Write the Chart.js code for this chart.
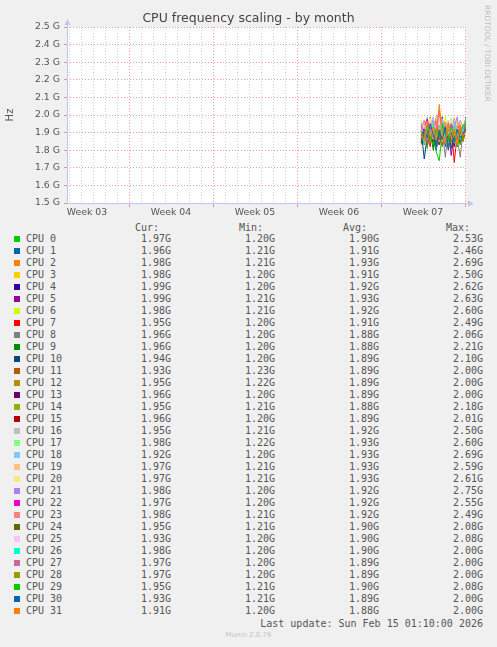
<!DOCTYPE html>
<html>
<head>
    <title>CPU frequency scaling - by month</title>
    <script src="https://cdn.jsdelivr.net/npm/chart.js"></script>
    <style>
        body {
            margin: 0;
            background: #f0f0f0;
            font-family: 'DejaVu Sans', sans-serif;
        }
        .wrap {
            position: relative;
            width: 497px;
            height: 647px;
            overflow: hidden;
        }
        #freqChart { position: absolute; left: 0; top: 0; }
        .row {
            position: absolute;
            left: 0;
            width: 497px;
            height: 12px;
            line-height: 12px;
            font-family: 'DejaVu Sans Mono', monospace;
            font-size: 10px;
            color: #555;
            white-space: pre;
        }
        .row span { position: absolute; top: 0; }
        .row .sw { left: 14px; top: 3px; width: 6px; height: 6px; }
        .row .name { left: 26px; }
        .vendor {
            position: absolute;
            left: 483px;
            top: 5px;
            writing-mode: vertical-rl;
            font-size: 7.5px;
            line-height: 9px;
            color: #bbb;
        }
        .version {
            position: absolute;
            left: 0;
            width: 497px;
            top: 631px;
            text-align: center;
            font-size: 7px;
            color: #c4c4c4;
        }
    </style>
</head>
<body>
<div class="wrap">
    <canvas id="freqChart" width="497" height="220"></canvas>
    <div class="vendor">RRDTOOL / TOBI OETIKER</div>
    <div id="legend"></div>
    <div class="version">Munin 2.0.76</div>
</div>

<script>
// x axis: days, 0 = start of week 04
const weekStarts = [0, 7, 14, 21, 28];
const weekCentres = [-3.5, 3.5, 10.5, 17.5, 24.5];
const weekLabels = ['Week 03', 'Week 04', 'Week 05', 'Week 06', 'Week 07'];

// sample times (days) of the last few days that hold data
const times = [24.35, 24.6, 24.85, 25.1, 25.35, 25.6, 25.85, 26.1, 26.35, 26.6, 26.85, 27.1, 27.35, 27.6, 27.85, 28.1];

// frequency per CPU, in GHz
const freqs = [
    [1.86, 1.92, 1.81, 1.95, 1.88, 1.79, 1.74, 1.90, 1.96, 1.84, 1.93, 1.87, 1.91, 1.83, 1.94, 1.97],
    [1.90, 1.84, 1.97, 1.86, 1.93, 1.80, 1.89, 1.95, 1.82, 1.91, 1.87, 1.96, 1.84, 1.92, 1.88, 1.96],
    [1.83, 1.95, 1.88, 1.99, 1.85, 1.92, 1.97, 1.86, 1.94, 1.81, 1.90, 1.98, 1.87, 1.93, 1.89, 1.98],
    [1.95, 1.87, 1.92, 1.84, 1.98, 1.89, 1.83, 1.96, 1.88, 1.93, 1.85, 1.91, 1.97, 1.86, 1.94, 1.98],
    [1.88, 1.93, 1.85, 1.90, 1.82, 1.97, 1.91, 1.87, 1.84, 1.95, 1.89, 1.82, 1.93, 1.90, 1.86, 1.99],
    [1.92, 1.85, 1.96, 1.89, 1.83, 1.94, 1.88, 1.99, 1.86, 1.91, 1.77, 1.90, 1.84, 1.95, 1.92, 1.99],
    [1.97, 1.89, 1.93, 1.98, 1.87, 1.91, 1.95, 1.84, 1.99, 1.90, 1.86, 1.94, 1.88, 1.96, 1.91, 1.98],
    [1.85, 1.91, 1.88, 1.82, 1.94, 1.86, 1.90, 1.83, 1.92, 1.88, 1.95, 1.73, 1.89, 1.93, 1.87, 1.95],
    [1.89, 1.83, 1.90, 1.87, 1.92, 1.81, 1.88, 1.93, 1.76, 1.90, 1.85, 1.91, 1.87, 1.76, 1.92, 1.96],
    [1.84, 1.90, 1.86, 1.93, 1.80, 1.89, 1.92, 1.85, 1.91, 1.83, 1.88, 1.94, 1.82, 1.90, 1.87, 1.96],
    [1.91, 1.75, 1.88, 1.84, 1.92, 1.87, 1.83, 1.90, 1.86, 1.93, 1.81, 1.89, 1.92, 1.85, 1.90, 1.94],
    [1.87, 1.92, 1.83, 1.90, 1.86, 1.94, 1.88, 1.82, 1.91, 1.87, 1.93, 1.84, 1.89, 1.92, 1.86, 1.93],
    [1.93, 1.86, 1.91, 1.85, 1.89, 1.83, 1.95, 1.88, 1.84, 1.92, 1.87, 1.90, 1.85, 1.93, 1.88, 1.95],
    [1.86, 1.94, 1.89, 1.92, 1.84, 1.90, 1.87, 1.93, 1.89, 1.85, 1.91, 1.88, 1.94, 1.87, 1.92, 1.96],
    [1.90, 1.85, 1.93, 1.88, 1.91, 1.86, 1.92, 1.84, 1.90, 1.94, 1.86, 1.89, 1.83, 1.91, 1.88, 1.95],
    [1.88, 1.93, 1.86, 1.91, 1.85, 1.92, 1.89, 1.87, 1.93, 1.84, 1.90, 1.86, 1.92, 1.88, 1.85, 1.96],
    [1.94, 1.88, 1.97, 1.90, 1.86, 1.95, 1.91, 1.98, 1.87, 1.93, 1.89, 1.96, 1.84, 1.92, 1.90, 1.95],
    [1.96, 1.90, 1.99, 1.87, 1.94, 1.91, 1.97, 1.85, 1.95, 1.89, 1.98, 1.92, 1.88, 1.96, 1.91, 1.98],
    [1.91, 1.97, 1.88, 1.94, 1.99, 1.86, 1.93, 1.90, 1.96, 1.84, 1.92, 1.97, 1.89, 1.86, 1.94, 1.92],
    [1.93, 1.88, 1.96, 1.91, 1.87, 1.98, 1.90, 1.94, 1.86, 1.97, 1.91, 1.88, 1.95, 1.90, 1.93, 1.97],
    [1.89, 1.95, 1.91, 1.98, 1.88, 1.93, 1.96, 1.87, 1.94, 1.90, 1.97, 1.89, 1.92, 1.96, 1.88, 1.97],
    [1.95, 1.90, 1.86, 1.93, 1.97, 1.89, 1.94, 1.91, 1.85, 1.96, 1.88, 1.93, 1.99, 1.87, 1.92, 1.98],
    [1.87, 1.93, 1.98, 1.89, 1.92, 1.96, 1.86, 1.94, 1.90, 1.87, 1.95, 1.91, 1.86, 1.94, 1.89, 1.97],
    [1.92, 1.97, 1.89, 1.95, 1.90, 1.99, 2.01, 1.88, 1.96, 1.91, 1.86, 1.94, 1.90, 1.97, 1.93, 1.98],
    [1.85, 1.89, 1.92, 1.86, 1.90, 1.84, 1.91, 1.88, 1.93, 1.85, 1.89, 1.87, 1.92, 1.84, 1.90, 1.95],
    [1.90, 1.94, 1.87, 1.92, 1.88, 1.95, 1.98, 1.86, 1.91, 1.89, 1.93, 1.85, 1.90, 1.88, 1.91, 1.93],
    [1.88, 1.84, 1.93, 1.89, 1.95, 1.87, 1.91, 1.96, 1.85, 1.92, 1.88, 1.94, 1.90, 1.86, 1.93, 1.98],
    [1.94, 1.89, 1.85, 1.92, 1.87, 1.93, 2.03, 1.90, 1.86, 1.91, 1.95, 1.84, 1.89, 1.93, 1.88, 1.97],
    [1.86, 1.91, 1.89, 1.84, 1.93, 1.88, 1.92, 1.86, 1.94, 1.89, 1.84, 1.92, 1.87, 1.91, 1.85, 1.97],
    [1.91, 1.86, 1.94, 1.88, 1.83, 1.92, 1.87, 1.95, 1.89, 1.85, 1.93, 1.88, 1.82, 1.90, 1.94, 1.95],
    [1.84, 1.92, 1.87, 1.95, 1.89, 1.82, 1.91, 1.86, 1.93, 1.80, 1.90, 1.85, 1.92, 1.87, 1.89, 1.93],
    [1.90, 1.85, 1.96, 1.88, 1.93, 1.86, 2.06, 1.89, 1.84, 1.95, 1.87, 1.92, 1.83, 1.94, 1.88, 1.91]
];

// legend table values (GHz)
const curVals = [1.97, 1.96, 1.98, 1.98, 1.99, 1.99, 1.98, 1.95, 1.96, 1.96, 1.94, 1.93, 1.95, 1.96, 1.95, 1.96,
                 1.95, 1.98, 1.92, 1.97, 1.97, 1.98, 1.97, 1.98, 1.95, 1.93, 1.98, 1.97, 1.97, 1.95, 1.93, 1.91];
const minVals = [1.20, 1.21, 1.21, 1.20, 1.20, 1.21, 1.21, 1.20, 1.20, 1.20, 1.20, 1.23, 1.22, 1.20, 1.21, 1.20,
                 1.21, 1.22, 1.20, 1.21, 1.21, 1.20, 1.20, 1.21, 1.21, 1.20, 1.20, 1.20, 1.20, 1.21, 1.21, 1.20];
const avgVals = [1.90, 1.91, 1.93, 1.91, 1.92, 1.93, 1.92, 1.91, 1.88, 1.88, 1.89, 1.89, 1.89, 1.89, 1.88, 1.89,
                 1.92, 1.93, 1.93, 1.93, 1.93, 1.92, 1.92, 1.92, 1.90, 1.90, 1.90, 1.89, 1.89, 1.90, 1.89, 1.88];
const maxVals = [2.53, 2.46, 2.69, 2.50, 2.62, 2.63, 2.60, 2.49, 2.06, 2.21, 2.10, 2.00, 2.00, 2.00, 2.18, 2.01,
                 2.50, 2.60, 2.69, 2.59, 2.61, 2.75, 2.55, 2.49, 2.08, 2.08, 2.00, 2.00, 2.00, 2.08, 2.00, 2.00];

// munin palette
const colors = ['#00CC00', '#0066B3', '#FF8000', '#FFCC00', '#330099', '#990099', '#CCFF00', '#FF0000',
                '#808080', '#008F00', '#00487D', '#B35A00', '#B38F00', '#6B006B', '#8FB300', '#B30000',
                '#BEBEBE', '#80FF80', '#80C9FF', '#FFC080', '#FFE680', '#AA80FF', '#EE00CC', '#FF8080',
                '#666600', '#FFBFFF', '#00FFCC', '#CC6699', '#999900', '#00CC00', '#0066B3', '#FF8000'];

const MAJOR = 'rgba(225, 120, 120, 0.75)';
const MINOR = 'rgba(190, 190, 190, 0.7)';
const AXIS = '#c4c4f2';

// white plot, axes with arrow heads
const muninFrame = {
    id: 'muninFrame',
    beforeDraw(chart) {
        const a = chart.chartArea, ctx = chart.ctx;
        ctx.save();
        ctx.fillStyle = '#ffffff';
        ctx.fillRect(a.left, a.top, a.right - a.left, a.bottom - a.top);
        ctx.restore();
    },
    afterDraw(chart) {
        const a = chart.chartArea, ctx = chart.ctx;
        const x0 = Math.round(a.left) + 0.5, y0 = Math.round(a.bottom) + 0.5;
        ctx.save();
        ctx.strokeStyle = AXIS;
        ctx.fillStyle = AXIS;
        ctx.lineWidth = 1;
        ctx.beginPath();
        ctx.moveTo(x0, y0);
        ctx.lineTo(x0, a.top - 2);
        ctx.moveTo(x0, y0);
        ctx.lineTo(a.right + 2, y0);
        ctx.stroke();
        ctx.beginPath();
        ctx.moveTo(x0 - 3, a.top - 2);
        ctx.lineTo(x0 + 3, a.top - 2);
        ctx.lineTo(x0, a.top - 8);
        ctx.closePath();
        ctx.fill();
        ctx.beginPath();
        ctx.moveTo(a.right + 2, y0 - 3);
        ctx.lineTo(a.right + 2, y0 + 3);
        ctx.lineTo(a.right + 8, y0);
        ctx.closePath();
        ctx.fill();
        ctx.restore();
    }
};

const datasets = freqs.map((vals, i) => ({
    label: 'CPU ' + i,
    data: times.map((t, k) => ({ x: t, y: vals[k] })),
    borderColor: colors[i],
    backgroundColor: colors[i],
    borderWidth: 1,
    pointRadius: 0,
    tension: 0,
    order: freqs.length - i
}));

new Chart(document.getElementById('freqChart').getContext('2d'), {
    type: 'line',
    data: { datasets: datasets },
    plugins: [muninFrame],
    options: {
        responsive: false,
        animation: false,
        devicePixelRatio: 1,
        layout: { padding: 0 },
        plugins: {
            legend: { display: false },
            tooltip: { enabled: false },
            title: {
                display: true,
                text: 'CPU frequency scaling - by month',
                color: '#444',
                font: { family: 'DejaVu Sans', size: 12.5, weight: 'normal' },
                padding: { top: 11, bottom: 1 }
            }
        },
        scales: {
            x: {
                type: 'linear',
                min: -5.17,
                max: 28.08,
                afterBuildTicks: (scale) => {
                    const t = [];
                    for (let d = -5; d <= 28; d++) t.push({ value: d });
                    weekCentres.forEach(v => t.push({ value: v }));
                    t.sort((p, q) => p.value - q.value);
                    scale.ticks = t;
                },
                afterFit: (scale) => { scale.height = 17; },
                ticks: {
                    autoSkip: false,
                    maxRotation: 0,
                    padding: 0,
                    color: '#555',
                    font: { family: 'DejaVu Sans', size: 9.33 },
                    callback: (v) => {
                        const k = weekCentres.indexOf(v);
                        return k >= 0 ? weekLabels[k] : '';
                    }
                },
                grid: {
                    color: (c) => {
                        const v = c.tick ? c.tick.value : null;
                        if (weekCentres.includes(v)) return 'rgba(0,0,0,0)';
                        return weekStarts.includes(v) ? MAJOR : MINOR;
                    },
                    tickColor: (c) => (c.tick && weekStarts.includes(c.tick.value)) ? MAJOR : 'rgba(0,0,0,0)',
                    tickLength: 4,
                    lineWidth: 1
                },
                border: { display: false, dash: [1, 2] }
            },
            y: {
                min: 1.5,
                max: 2.5,
                afterFit: (scale) => { scale.width = 67; },
                ticks: {
                    stepSize: 0.1,
                    padding: 4,
                    color: '#555',
                    font: { family: 'DejaVu Sans', size: 9.33 },
                    callback: (v) => v.toFixed(1) + ' G'
                },
                grid: {
                    color: MAJOR,
                    tickColor: MAJOR,
                    tickLength: 3,
                    lineWidth: 1
                },
                border: { display: false, dash: [1, 2] },
                title: {
                    display: true,
                    text: 'Hz',
                    color: '#555',
                    font: { family: 'DejaVu Sans', size: 10 },
                    padding: { top: 4, bottom: 0 }
                }
            },
            // empty strip on the right, keeps the title centred on the page
            side: {
                position: 'right',
                afterFit: (scale) => { scale.width = 31; },
                ticks: { display: false },
                grid: { display: false },
                border: { display: false }
            }
        }
    }
});

// legend table below the graph
const legend = document.getElementById('legend');
const fmt = (v) => v.toFixed(2) + 'G';

function addRow(top, cells) {
    const row = document.createElement('div');
    row.className = 'row';
    row.style.top = top + 'px';
    cells.forEach(c => {
        const s = document.createElement('span');
        if (c.cls) s.className = c.cls;
        if (c.bg) s.style.background = c.bg;
        if (c.right !== undefined) s.style.right = c.right + 'px';
        s.textContent = c.text || '';
        row.appendChild(s);
    });
    legend.appendChild(row);
}

addRow(222, [
    { text: 'Cur:', right: 338 },
    { text: 'Min:', right: 234 },
    { text: 'Avg:', right: 130 },
    { text: 'Max:', right: 27 }
]);

freqs.forEach((_, i) => {
    addRow(233 + i * 12, [
        { cls: 'sw', bg: colors[i] },
        { cls: 'name', text: 'CPU ' + i },
        { text: fmt(curVals[i]), right: 326 },
        { text: fmt(minVals[i]), right: 222 },
        { text: fmt(avgVals[i]), right: 118 },
        { text: fmt(maxVals[i]), right: 14 }
    ]);
});

addRow(618, [{ text: 'Last update: Sun Feb 15 01:10:00 2026', right: 14 }]);
</script>
</body>
</html>
